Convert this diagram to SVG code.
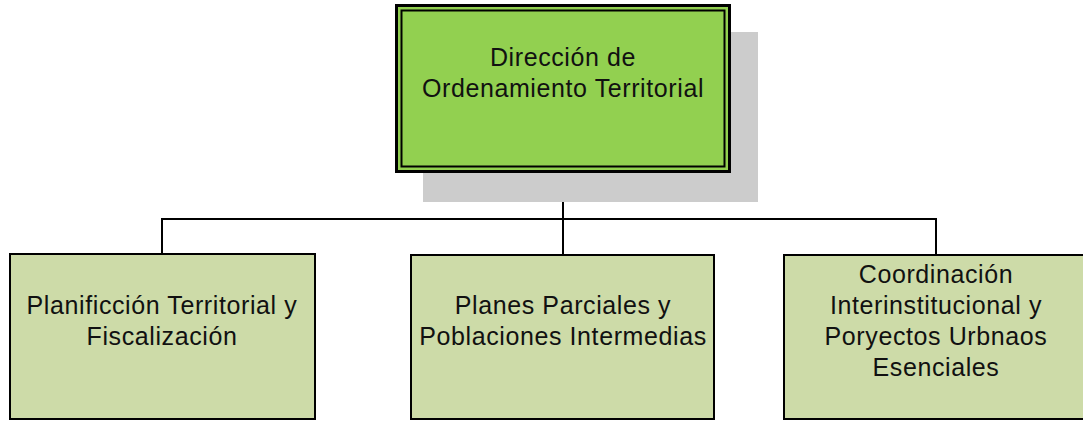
<svg xmlns="http://www.w3.org/2000/svg" width="1083" height="421" viewBox="0 0 1083 421">
<style>
text{font-family:"Liberation Sans",Arial,sans-serif;font-size:25px;letter-spacing:0.6px;fill:#111;text-anchor:middle}
.sub{fill:#cddba8;stroke:#000;stroke-width:2}
.conn{fill:none;stroke:#000;stroke-width:2}
</style>
<rect width="1083" height="421" fill="#fff"/>
<g id="connectors">
<path class="conn" d="M563 172V219M162 254V219H936V255M563 219V255"/>
</g>
<g id="top">
<rect x="423" y="32" width="335" height="170" fill="#cccccc"/>
<rect x="396.5" y="5.5" width="333" height="166" fill="#92d050" stroke="#000" stroke-width="3"/>
<rect x="401.5" y="10.5" width="323" height="156" fill="none" stroke="#000" stroke-width="2"/>
<text x="563" y="66">Dirección de</text>
<text x="563" y="97">Ordenamiento Territorial</text>
</g>
<g id="n1">
<rect class="sub" x="10" y="254" width="305" height="165"/>
<text x="162" y="314">Planificción Territorial y</text>
<text x="162" y="345">Fiscalización</text>
</g>
<g id="n2">
<rect class="sub" x="411" y="255" width="303" height="164"/>
<text x="563" y="314">Planes Parciales y</text>
<text x="563" y="345">Poblaciones Intermedias</text>
</g>
<g id="n3">
<rect class="sub" x="784" y="255" width="304" height="164"/>
<text x="936" y="283">Coordinación</text>
<text x="936" y="314">Interinstitucional y</text>
<text x="936" y="345">Poryectos Urbnaos</text>
<text x="936" y="376">Esenciales</text>
</g>
</svg>
